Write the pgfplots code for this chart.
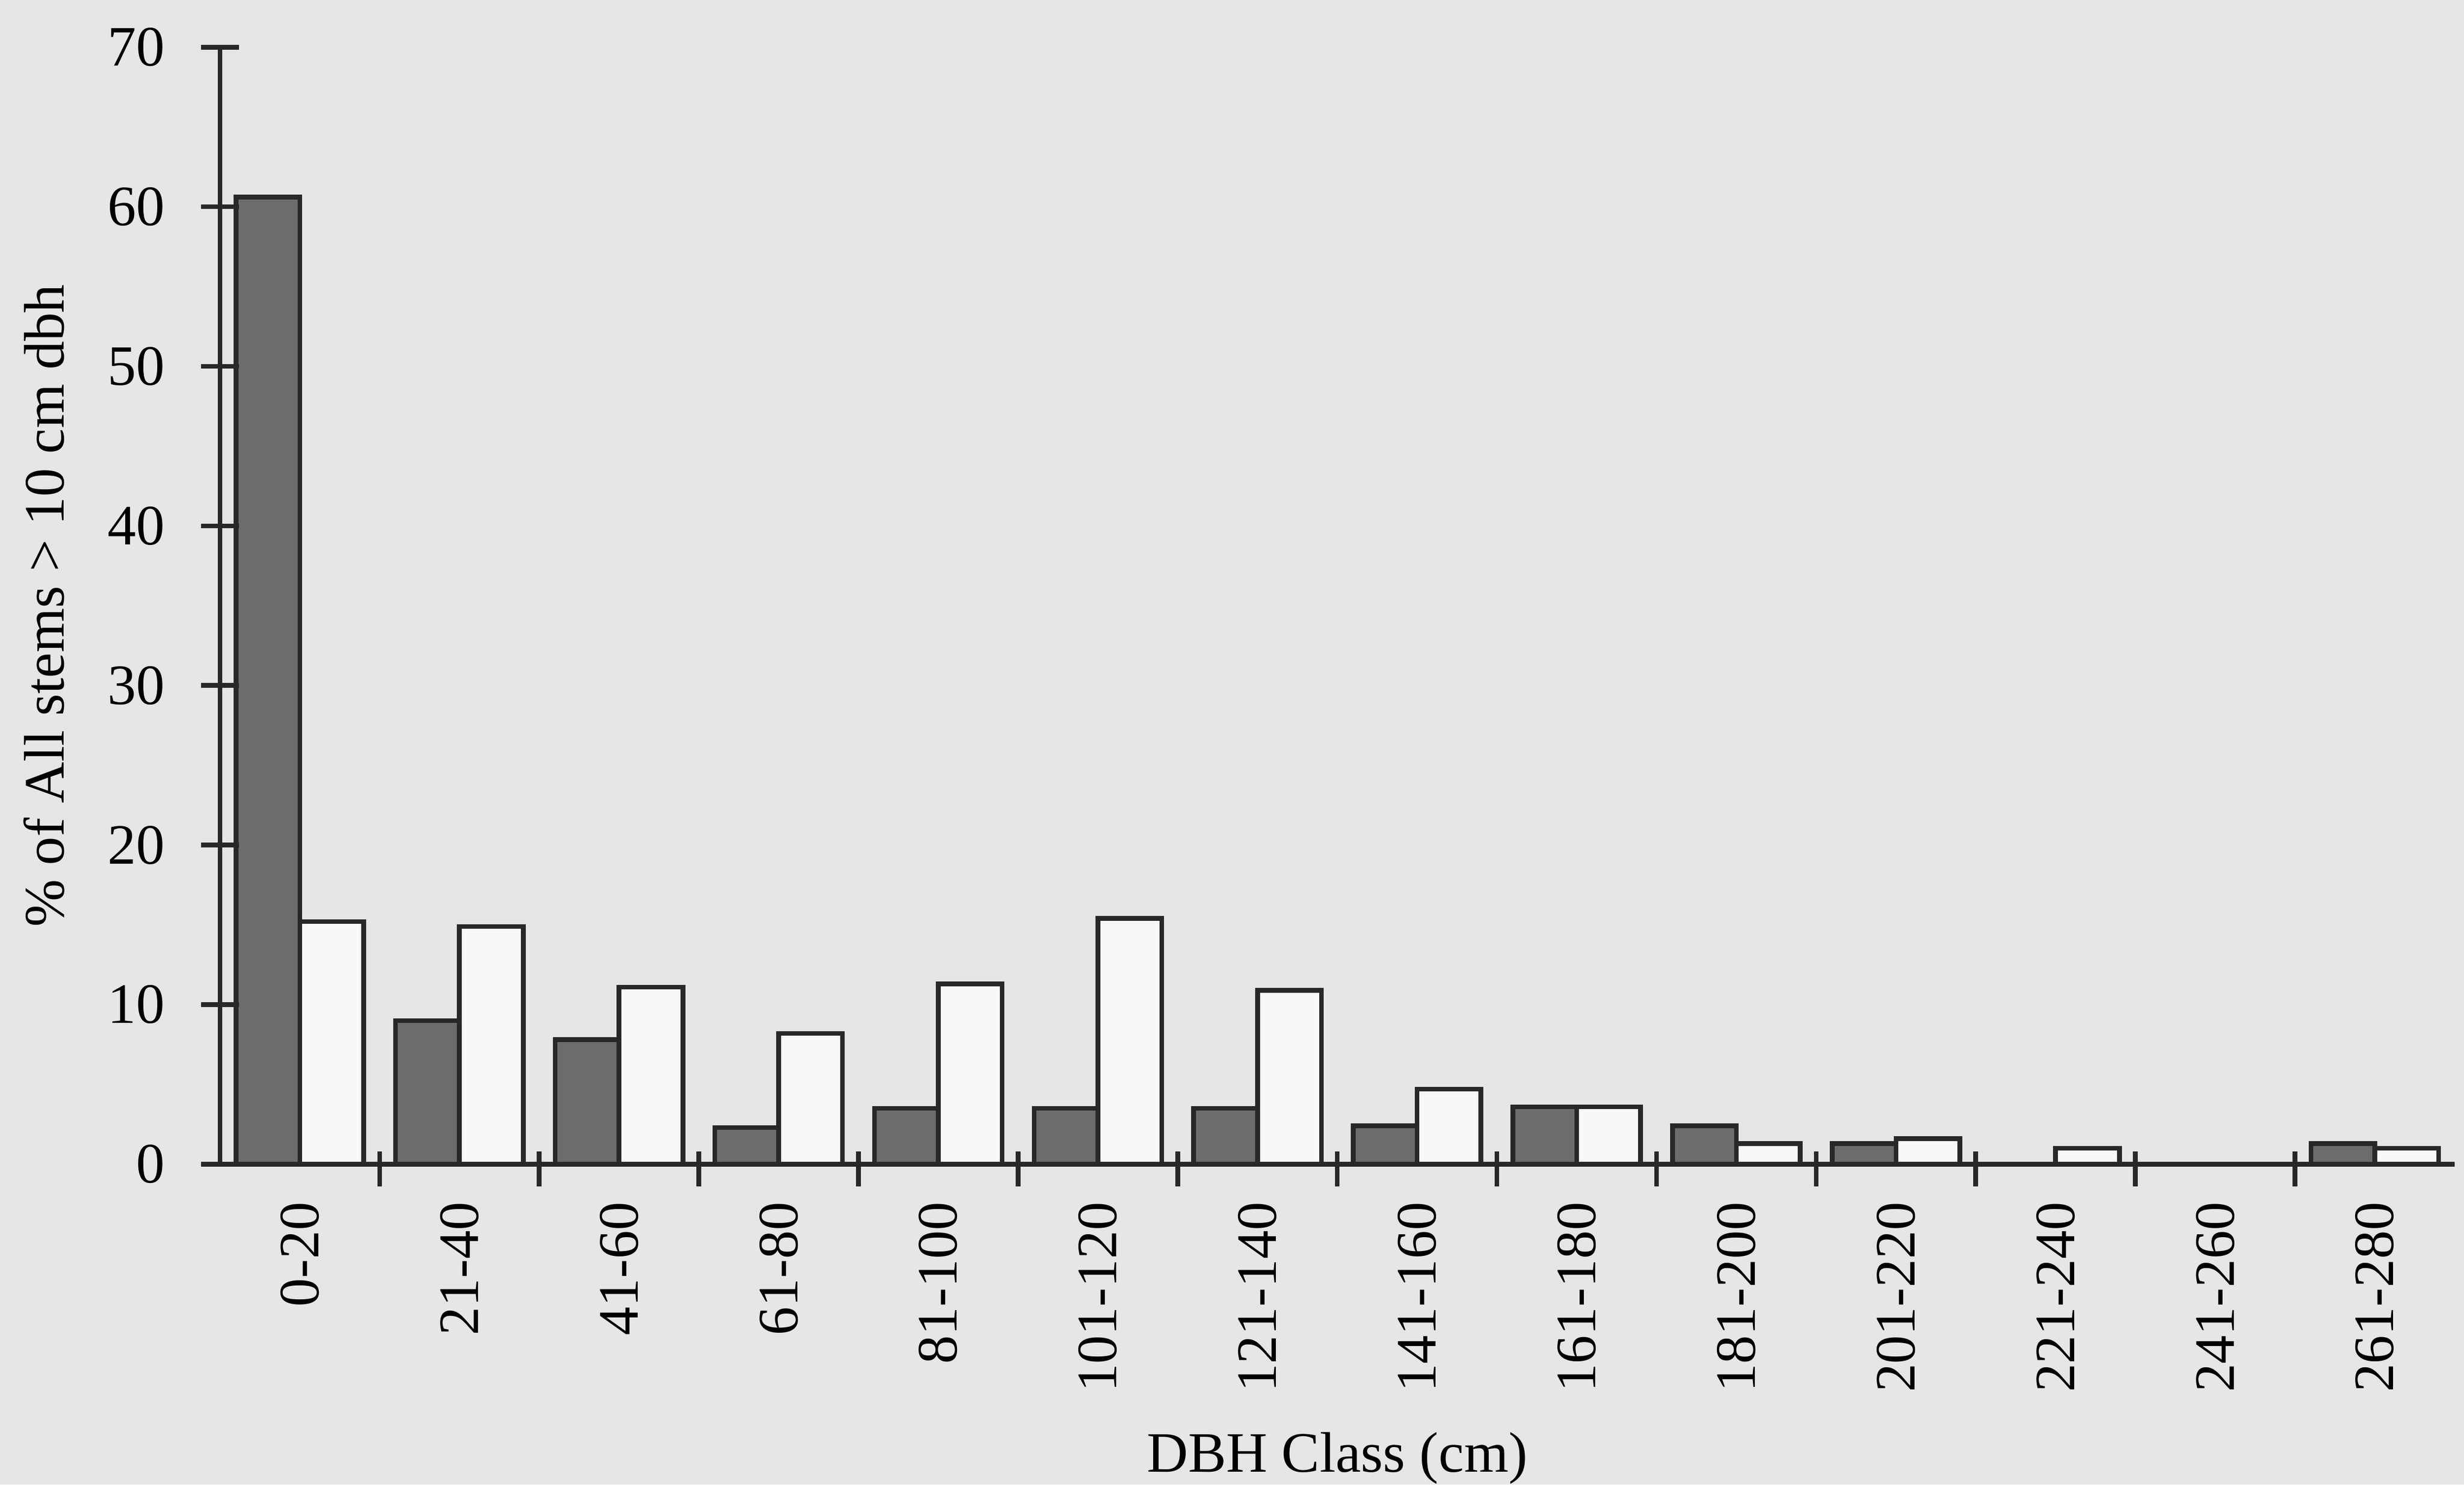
\documentclass[border=0pt]{standalone}
\usepackage{fontspec}
\setmainfont{Liberation Serif}
\usepackage{pgfplots}
\pgfplotsset{compat=1.18}
\definecolor{paper}{RGB}{230,230,230}
\definecolor{darkbar}{RGB}{108,108,108}
\definecolor{lightbar}{RGB}{248,248,248}
\definecolor{ink}{RGB}{40,40,40}

\begin{document}
\fontsize{10.9}{13}\selectfont
\begin{tikzpicture}
\path[use as bounding box, fill=paper] (-42pt,-61.2pt) rectangle (428.4pt,222.3pt);
\begin{axis}[
  scale only axis, width=426.6pt, height=213.3pt,
  xmin=-0.5, xmax=13.5, ymin=0, ymax=70,
  axis x line=bottom, axis y line=left,
  axis line style={-, line width=0.9pt, ink},
  axis on top,
  ytick={0,10,...,70},
  xtick={0,...,13},
  xticklabels={0-20,21-40,41-60,61-80,81-100,101-120,121-140,141-160,161-180,181-200,201-220,221-240,241-260,261-280},
  minor xtick={0.5,1.5,...,12.5},
  major x tick style={draw=none},
  minor x tick style={yshift=2.4pt},
  tick align=center,
  major tick length=7.2pt, minor tick length=6.6pt,
  tick style={line width=0.9pt, ink},
  xticklabel style={rotate=90, anchor=east},
  xticklabel shift=-3.8pt, yticklabel shift=3.1pt,
  /pgf/number format/assume math mode=true,
  ybar, bar width=0.4,
  xlabel={DBH Class (cm)},
  ylabel={\% of All stems > 10 cm dbh},
  every axis x label/.style={at={(axis description cs:0.5,-0.263)}, anchor=center},
  every axis y label/.style={at={(axis description cs:-0.0788,0.5)}, anchor=center, rotate=90},
]
\addplot[bar shift=-0.2, fill=darkbar, draw=ink, line width=0.9pt] coordinates {
  (0,60.6) (1,9.0) (2,7.8) (3,2.3) (4,3.5) (5,3.5) (6,3.5)
  (7,2.4) (8,3.6) (9,2.4) (10,1.3) (11,0) (12,0) (13,1.3)
};
\addplot[bar shift=0.2, fill=lightbar, draw=ink, line width=0.9pt] coordinates {
  (0,15.2) (1,14.9) (2,11.1) (3,8.2) (4,11.3) (5,15.4) (6,10.9)
  (7,4.7) (8,3.6) (9,1.3) (10,1.6) (11,1.0) (12,0) (13,1.0)
};
\end{axis}
\end{tikzpicture}
\end{document}
